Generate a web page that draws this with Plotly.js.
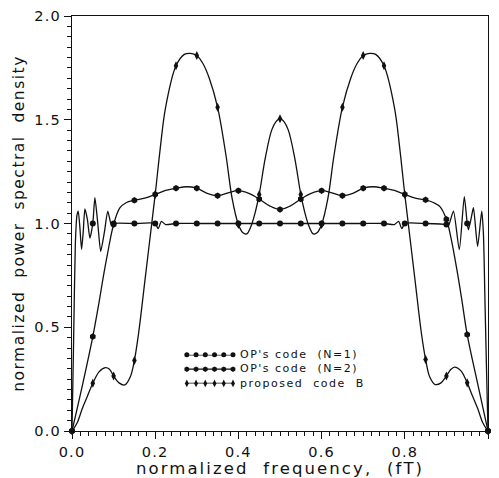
<!DOCTYPE html>
<html>
<head>
<meta charset="utf-8">
<script src="https://cdn.plot.ly/plotly-3.0.1.min.js"></script>
<style>
  body { margin: 0; padding: 0; background: #fff; }
  #chart { width: 499px; height: 478px; }
  .xtitle { letter-spacing: 2.1px; }
  .ytitle { letter-spacing: 1.5px; }
  .xtick text, .ytick text { letter-spacing: 1.2px; }
  .annotation-text-g text { letter-spacing: 1.5px; }
</style>
</head>
<body>
<div id="chart"></div>
<script>
// ---- data ----
// "proposed code B" : large swings (peaks ~1.82 near 0.28 / 0.72, centre peak 1.5)
const codeBX = [0, 0.0125, 0.025, 0.0375, 0.05, 0.065, 0.08, 0.09, 0.1, 0.113, 0.127, 0.14, 0.15, 0.16, 0.175, 0.1875, 0.2, 0.212, 0.225, 0.25, 0.27, 0.285, 0.3, 0.315, 0.33, 0.35, 0.37, 0.385, 0.4, 0.41, 0.42, 0.43, 0.44, 0.45, 0.465, 0.48, 0.49, 0.5,
  0.51, 0.52, 0.535, 0.55, 0.56, 0.57, 0.58, 0.59, 0.6, 0.615, 0.63, 0.65, 0.67, 0.685, 0.7, 0.715, 0.73, 0.75, 0.775, 0.788, 0.8, 0.8125, 0.825, 0.84, 0.85, 0.86, 0.873, 0.887, 0.9, 0.91, 0.92, 0.935, 0.95, 0.9625, 0.975, 0.9875, 1];
const codeBY = [0, 0.04, 0.11, 0.17, 0.23, 0.285, 0.305, 0.298, 0.265, 0.232, 0.222, 0.26, 0.34, 0.47, 0.72, 0.93, 1.14, 1.36, 1.56, 1.76, 1.815, 1.82, 1.81, 1.77, 1.70, 1.56, 1.33, 1.12, 0.995, 0.957, 0.95, 0.985, 1.05, 1.14, 1.32, 1.45, 1.49, 1.505,
  1.49, 1.45, 1.32, 1.14, 1.05, 0.985, 0.95, 0.957, 0.995, 1.12, 1.33, 1.56, 1.70, 1.77, 1.81, 1.82, 1.815, 1.76, 1.56, 1.36, 1.14, 0.93, 0.72, 0.47, 0.345, 0.26, 0.224, 0.232, 0.265, 0.295, 0.308, 0.29, 0.232, 0.17, 0.11, 0.04, 0];

// "OP's code (N=2)" : wavy curve around 1.15
const opN2X = [0, 0.025, 0.05, 0.065, 0.075, 0.085, 0.1, 0.115, 0.13, 0.15, 0.175, 0.2, 0.225, 0.25, 0.275, 0.3, 0.325, 0.35, 0.375, 0.4, 0.425, 0.45, 0.475, 0.5,
  0.525, 0.55, 0.575, 0.6, 0.625, 0.65, 0.675, 0.7, 0.725, 0.75, 0.775, 0.8, 0.825, 0.85, 0.87, 0.885, 0.9, 0.91, 0.925, 0.937, 0.95, 0.975, 1];
const opN2Y = [0, 0.22, 0.455, 0.62, 0.74, 0.85, 0.995, 1.075, 1.1, 1.112, 1.122, 1.14, 1.16, 1.17, 1.177, 1.17, 1.145, 1.134, 1.148, 1.158, 1.145, 1.118, 1.085, 1.068,
  1.085, 1.118, 1.145, 1.158, 1.148, 1.134, 1.145, 1.17, 1.177, 1.17, 1.16, 1.14, 1.122, 1.114, 1.1, 1.08, 1.02, 0.94, 0.78, 0.633, 0.465, 0.23, 0];

// "OP's code (N=1)" : flat at 1.0 with ripples near both edges
const opN1X = [0, 0.004, 0.008, 0.012, 0.015, 0.019, 0.023, 0.027, 0.031, 0.037, 0.043, 0.05, 0.055, 0.062, 0.069, 0.078, 0.086, 0.095, 0.1, 0.15, 0.2, 0.207, 0.215, 0.225, 0.25, 0.3, 0.35, 0.4, 0.45, 0.5,
  0.55, 0.6, 0.65, 0.7, 0.75, 0.775, 0.785, 0.793, 0.8, 0.85, 0.9, 0.905, 0.917, 0.931, 0.943, 0.95, 0.953, 0.96, 0.965, 0.975, 0.985, 0.989, 0.993, 0.997, 1];
const opN1Y = [0, 0.45, 0.9, 1.04, 1.06, 0.98, 0.875, 0.96, 1.07, 1.02, 0.93, 1.0, 1.125, 1.0, 0.866, 0.96, 1.06, 0.99, 1.0, 1.0, 1.0, 0.975, 1.01, 0.995, 1.0, 1.0, 1.0, 1.0, 1.0, 1.0,
  1.0, 1.0, 1.0, 1.0, 1.0, 0.995, 1.01, 0.975, 1.0, 1.0, 0.995, 0.99, 1.06, 0.874, 1.13, 1.0, 0.97, 1.03, 1.076, 0.89, 1.06, 0.95, 0.6, 0.25, 0];

// legend
const legendLabels = ["OP's code\u00A0\u00A0(N=1)", "OP's code\u00A0\u00A0(N=2)", "proposed\u00A0\u00A0code\u00A0\u00A0B"];
const legendRows = [3, 2, 1];
const legendSampleX = [0, 1, 2, 3, 4, 5];

const xTickVals = [0, 0.2, 0.4, 0.6, 0.8, 1.0];
const xTickText = ['0.0', '0.2', '0.4', '0.6', '0.8', '1.0'];
const yTickVals = [0, 0.5, 1.0, 1.5, 2.0];
const yTickText = ['0.0', '0.5', '1.0', '1.5', '2.0'];

// ---- styling ----
const INK = '#111';
const series = [
  {x: opN1X, y: opN1Y, symbol: 'circle', size: 6, smooth: 0.6},
  {x: opN2X, y: opN2Y, symbol: 'hexagon', size: 6.5, smooth: 1},
  {x: codeBX, y: codeBY, symbol: 'diamond-tall', size: 6.5, smooth: 1}
];

function onMarkGrid(v) { return Math.abs(v * 20 - Math.round(v * 20)) < 1e-9; }

const traces = [];
series.forEach(s => {
  traces.push({
    x: s.x, y: s.y, type: 'scatter', mode: 'lines',
    line: {color: INK, width: 1.3, shape: 'spline', smoothing: s.smooth},
    hoverinfo: 'skip', showlegend: false
  });
  const mx = [], my = [];
  s.x.forEach((v, i) => { if (onMarkGrid(v)) { mx.push(v); my.push(s.y[i]); } });
  traces.push({
    x: mx, y: my, type: 'scatter', mode: 'markers', cliponaxis: false,
    marker: {color: INK, size: s.size, symbol: s.symbol, line: {width: 0}},
    hoverinfo: 'skip', showlegend: false
  });
});

// legend samples on an inset axis, rows aligned with a 3-line text block
const FONT_LEG = 11;
const LINE_PX = FONT_LEG * 1.3;
const PLOT_H = 478 - 16 - 47;
const LEG_CENTER = 0.149;
const LEG_HALF = LINE_PX / PLOT_H;
const LEG_X = [0.276, 0.387];
const LEG_Y = [LEG_CENTER - LEG_HALF, LEG_CENTER + LEG_HALF];
series.forEach((s, i) => {
  traces.push({
    x: legendSampleX, y: legendSampleX.map(() => legendRows[i]),
    xaxis: 'x2', yaxis: 'y2', type: 'scatter', mode: 'lines+markers',
    line: {color: INK, width: 1.2},
    marker: {color: INK, size: s.size - 1, symbol: s.symbol},
    hoverinfo: 'skip', showlegend: false, cliponaxis: false
  });
});

const annotations = [{
  text: legendLabels.join('<br>'), x: 0.399, y: LEG_CENTER,
  xref: 'paper', yref: 'paper', align: 'left',
  xanchor: 'left', yanchor: 'middle', showarrow: false,
  font: {size: FONT_LEG, color: INK, family: 'DejaVu Sans'}
}];

const layout = {
  width: 499, height: 478,
  margin: {l: 72, r: 11, t: 16, b: 47},
  paper_bgcolor: '#fff', plot_bgcolor: '#fff',
  showlegend: false,
  font: {family: 'DejaVu Sans', color: INK},
  xaxis: {
    range: [0, 1], tickvals: xTickVals, ticktext: xTickText,
    ticks: 'outside', ticklen: 7, tickwidth: 1, tickcolor: INK,
    showline: true, linecolor: INK, linewidth: 1.2, mirror: true,
    showgrid: false, zeroline: false,
    minor: {dtick: 0.02, tick0: 0, ticks: 'outside', ticklen: 4, tickwidth: 1, tickcolor: INK, showgrid: false},
    tickfont: {size: 14.5, color: INK},
    title: {text: 'normalized\u00A0\u00A0frequency,\u00A0\u00A0(fT)', font: {size: 16.5, color: INK}, standoff: 2},
    automargin: false
  },
  yaxis: {
    range: [0, 2], tickvals: yTickVals, ticktext: yTickText,
    ticks: 'outside', ticklen: 7, tickwidth: 1, tickcolor: INK,
    showline: true, linecolor: INK, linewidth: 1.2, mirror: true,
    showgrid: false, zeroline: false,
    minor: {dtick: 0.05, tick0: 0, ticks: 'outside', ticklen: 4, tickwidth: 1, tickcolor: INK, showgrid: false},
    tickfont: {size: 14.5, color: INK},
    title: {text: 'normalized\u00A0\u00A0power\u00A0\u00A0spectral\u00A0\u00A0density', font: {size: 15.5, color: INK}, standoff: 5},
    automargin: false
  },
  xaxis2: {domain: LEG_X, range: [0, 5], visible: false, fixedrange: true, anchor: 'y2'},
  yaxis2: {domain: LEG_Y, range: [1, 3], visible: false, fixedrange: true, anchor: 'x2'},
  annotations: annotations
};

Plotly.newPlot('chart', traces, layout, {staticPlot: true, displayModeBar: false});
</script>
</body>
</html>
